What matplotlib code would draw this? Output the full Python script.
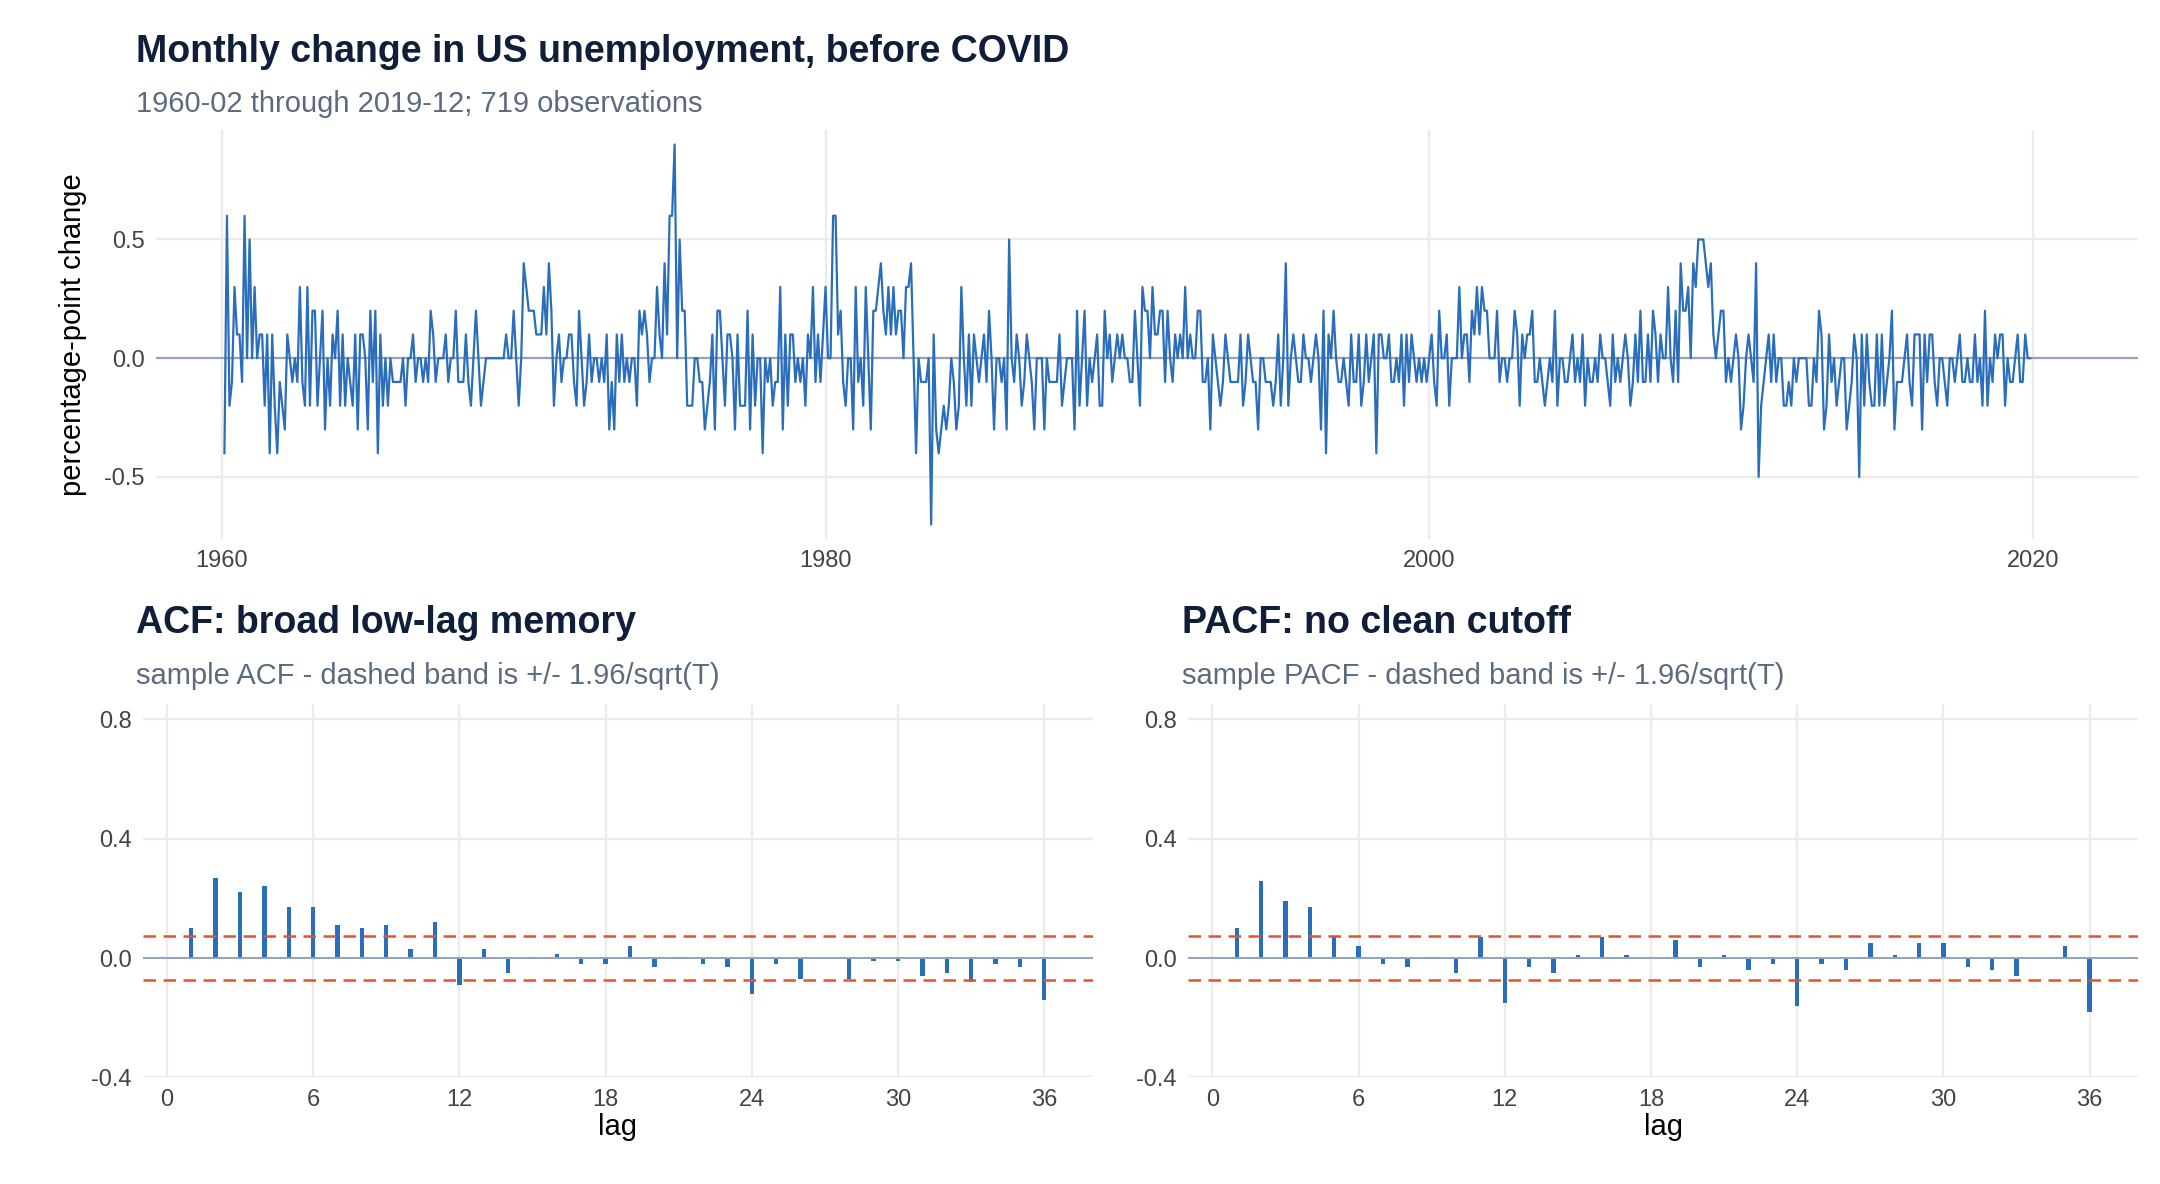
import matplotlib.pyplot as plt; plt.rcdefaults()
import numpy as np
import matplotlib.pyplot as plt

plt.rcParams['font.family'] = ['Liberation Sans', 'DejaVu Sans']
plt.rcParams['axes.unicode_minus'] = False

levels = '''
52 48 54 52 51 54 55 56 55 61 61 66
66 69 69 70 71 69 70 66 67 65 61 60
58 55 56 56 55 55 54 57 56 54 57 55
57 59 57 57 59 56 56 54 55 55 57 55
56 54 54 53 51 52 49 50 51 51 48 50
49 51 47 48 46 46 44 44 43 42 41 40
40 38 38 38 39 38 38 38 37 37 36 38
39 38 38 38 38 39 38 38 38 40 39 38
37 38 37 35 35 37 37 35 34 34 34 34
34 34 34 34 34 35 35 35 37 37 35 35
39 42 44 46 48 49 50 51 54 55 59 61
59 59 60 59 59 59 60 61 60 58 60 60
58 57 58 57 57 57 56 56 55 56 53 52
49 50 49 50 49 49 48 48 48 46 48 49
51 52 51 51 51 54 55 55 59 60 66 72
81 81 86 88 90 88 86 84 84 84 83 82
79 77 76 77 74 76 78 78 76 77 78 78
75 76 74 72 70 72 69 70 68 68 68 64
64 63 63 61 60 59 62 59 60 58 59 60
59 59 58 58 56 57 57 60 59 60 59 60
63 63 63 69 75 76 78 77 75 75 75 72
75 74 74 72 75 75 72 74 76 79 83 85
86 89 90 93 94 96 98 98 101 104 108 108
104 104 103 102 101 101 94 95 92 88 85 83
80 78 78 77 74 72 75 75 73 74 72 73
73 72 72 73 72 74 74 71 71 71 70 70
67 72 72 71 72 72 70 69 70 70 69 66
66 66 66 63 63 62 61 60 59 60 58 57
57 57 57 54 56 54 54 56 54 54 53 53
54 52 50 52 52 53 52 52 53 53 54 54
54 53 52 54 54 52 55 57 59 59 62 63
64 66 68 67 69 69 68 69 69 70 70 73
73 74 74 74 76 78 77 76 76 73 74 74
73 71 70 71 71 70 69 68 67 68 66 65
66 66 65 64 61 61 61 60 59 58 56 55
56 54 54 58 56 56 57 57 56 55 56 56
56 55 55 56 56 53 55 51 52 52 54 54
53 52 52 51 49 50 49 48 49 47 46 47
46 46 47 43 44 45 45 45 46 45 44 44
43 44 42 43 42 43 43 42 42 41 41 40
40 41 40 38 40 40 40 41 39 39 39 39
42 42 43 44 43 45 46 49 50 53 55 57
57 57 57 59 58 58 58 57 57 57 59 60
58 59 59 60 61 63 62 61 61 60 58 57
57 56 58 56 56 56 55 54 54 55 54 54
53 54 52 52 51 50 50 49 50 50 50 49
47 48 47 47 46 46 47 47 45 44 45 44
46 45 44 45 44 46 47 46 47 47 47 50
50 49 51 50 54 56 58 61 61 65 68 73
78 83 87 90 94 95 95 96 98 100 99 99
98 98 99 99 96 94 94 95 95 94 98 93
91 90 90 91 90 91 90 90 90 88 86 85
83 83 82 82 82 82 82 80 78 78 77 79
80 77 75 76 75 75 73 72 72 72 69 67
66 67 67 62 63 61 62 61 59 57 58 56
57 55 54 54 56 53 52 51 50 50 51 50
48 49 50 51 48 49 48 49 50 49 47 47
47 46 44 44 44 43 43 44 43 42 42 41
40 41 40 40 38 40 38 38 37 38 38 39
40 38 38 37 36 36 37 36 35 36 36 36
'''
rate = np.array([int(v) for v in levels.split()]) / 10.0
change = np.diff(rate)  # 1960-02 .. 2019-12
t = 1960 + np.arange(1, len(rate)) / 12.0

lags = np.arange(1, 37)
acf = [0.10, 0.27, 0.22, 0.24, 0.17, 0.17, 0.11, 0.10, 0.11, 0.03, 0.12, -0.09,
       0.03, -0.05, 0.005, 0.015, -0.02, -0.02, 0.04, -0.03, 0.005, -0.02, -0.03, -0.12,
       -0.02, -0.07, 0.0, -0.07, -0.01, -0.01, -0.06, -0.05, -0.08, -0.02, -0.03, -0.14]
pacf = [0.10, 0.26, 0.19, 0.17, 0.07, 0.04, -0.02, -0.03, 0.005, -0.05, 0.07, -0.15,
        -0.03, -0.05, 0.01, 0.07, 0.01, 0.0, 0.06, -0.03, 0.01, -0.04, -0.02, -0.16,
        -0.02, -0.04, 0.05, 0.01, 0.05, 0.05, -0.03, -0.04, -0.06, 0.0, 0.04, -0.18]
band = 1.96 / np.sqrt(len(change))

blue = '#2a6ebb'
grid = '#ebebeb'
navy = '#0f1f3a'
sub = '#5b6b7e'

fig = plt.figure(figsize=(21.6, 11.84), dpi=100)

def style(ax):
    for s in ax.spines.values():
        s.set_visible(False)
    ax.grid(True, color=grid, linewidth=1.6)
    ax.set_axisbelow(True)
    ax.tick_params(length=0, labelsize=17, colors='#444444', pad=8)

# top panel
ax = fig.add_axes([0.072, 0.545, 0.918, 0.345])
style(ax)
ax.axhline(0, color='#94a3b8', linewidth=1.6)
ax.plot(t, change, color=blue, linewidth=1.6)
ax.set_xlim(1957.8, 2023.5)
ax.set_ylim(-0.76, 0.96)
ax.set_xticks([1960, 1980, 2000, 2020])
ax.set_yticks([-0.5, 0.0, 0.5])
ax.set_ylabel('percentage-point change', fontsize=21, labelpad=12)
fig.text(0.063, 0.948, 'Monthly change in US unemployment, before COVID', fontsize=27,
         fontweight='bold', color=navy)
fig.text(0.063, 0.905, '1960-02 through 2019-12; 719 observations', fontsize=21, color=sub)

# bottom panels
for x0, vals, title, subtitle in [
        (0.063, acf, 'ACF: broad low-lag memory', 'sample ACF - dashed band is +/- 1.96/sqrt(T)'),
        (0.547, pacf, 'PACF: no clean cutoff', 'sample PACF - dashed band is +/- 1.96/sqrt(T)')]:
    ax = fig.add_axes([x0 + 0.003, 0.09, 0.44, 0.315])
    style(ax)
    ax.axhline(0, color='#94a3b8', linewidth=1.4)
    ax.bar(lags, vals, width=0.18, color=blue)
    ax.axhline(band, color='#e5532b', linestyle=(0, (5, 3)), linewidth=1.8)
    ax.axhline(-band, color='#e5532b', linestyle=(0, (5, 3)), linewidth=1.8)
    ax.set_xlim(-1.0, 38.0)
    ax.set_ylim(-0.4, 0.85)
    ax.set_xticks(range(0, 37, 6))
    ax.set_yticks([-0.4, 0.0, 0.4, 0.8])
    ax.set_xlabel('lag', fontsize=21, labelpad=2)
    fig.text(x0, 0.465, title, fontsize=27, fontweight='bold', color=navy)
    fig.text(x0, 0.422, subtitle, fontsize=21, color=sub)

plt.savefig('out.png')
